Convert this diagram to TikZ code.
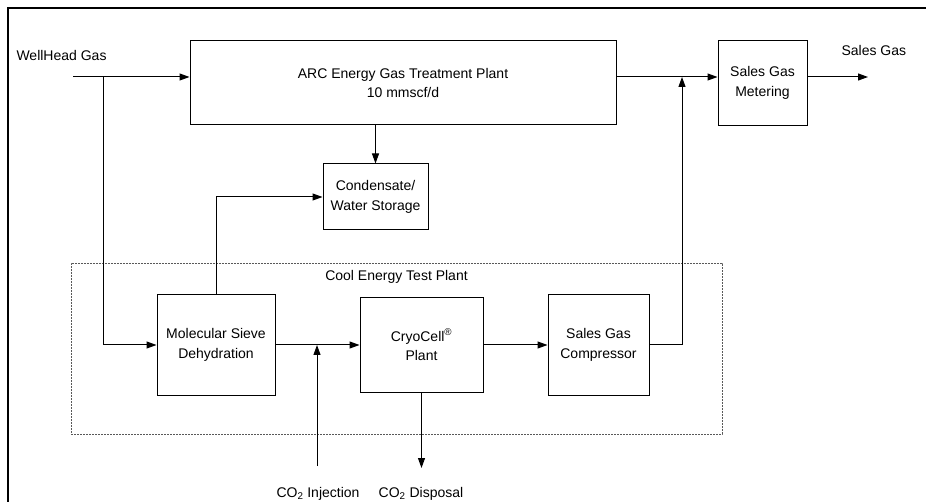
\documentclass[tikz,border=0pt]{standalone}
\usepackage{fontspec}
\setmainfont{Liberation Sans}
\usepackage{tikz}
\usetikzlibrary{arrows.meta, positioning}
\definecolor{framegray}{gray}{0.35}

\begin{document}
\begin{tikzpicture}[
  x=1pt, y=-1pt,
  font=\fontsize{14}{19.5}\selectfont,
  unitbox/.style={draw, line width=1pt, inner sep=0pt, align=center},
  plantframe/.style={draw=framegray, dash pattern=on 2pt off 1pt, line width=0.8pt, inner sep=0pt},
  arrow/.style={-{Triangle[length=10pt,width=7pt]}, line width=1pt}
]
  \useasboundingbox (0,0) rectangle (926,502);
  \draw[line width=1.6pt] (8,502) -- (8,8) -- (930,8);

  \node[plantframe, minimum width=651pt, minimum height=171pt] (testplant) at (396.5,348.5) {};
  \node[below=4pt of testplant.north] (testlabel) {Cool Energy Test Plant};

  \node[unitbox, minimum width=426pt, minimum height=84pt] at (403,83)
    (arc) {ARC Energy Gas Treatment Plant\\10 mmscf/d};
  \node[unitbox, minimum width=89pt, minimum height=85pt, right=101pt of arc]
    (meter) {Sales Gas\\Metering};
  \node[unitbox, minimum width=105pt, minimum height=66pt] at (375.5,197)
    (cond) {Condensate/\\Water Storage};
  \node[unitbox, minimum width=118pt, minimum height=101pt] at (216,345)
    (sieve) {Molecular Sieve\\Dehydration};
  \node[unitbox, minimum width=123pt, minimum height=95pt, right=84pt of sieve]
    (cryo) {CryoCell\textsuperscript{\textregistered}\\Plant};
  \node[unitbox, minimum width=101pt, minimum height=101pt, right=64pt of cryo]
    (comp) {Sales Gas\\Compressor};

  \coordinate (wellin) at (73,77);
  \coordinate (split) at (103,77);
  \coordinate (join) at (682,77);
  \coordinate (salesout) at (868,77);
  \coordinate (co2in) at (317,466);
  \coordinate (co2out) at (421,468);

  \node[anchor=west] at (13,55) (welllabel) {WellHead Gas};
  \node[anchor=west] at (838,51) (saleslabel) {Sales Gas};
  \node at (318,494) (co2inlabel) {CO\textsubscript{2} Injection};
  \node at (421,494) (co2outlabel) {CO\textsubscript{2} Disposal};

  \draw[arrow] (wellin) -- (wellin -| arc.west);
  \draw[arrow] (split) |- (sieve.west);
  \draw[arrow] (cond.north |- arc.south) -- (cond.north);
  \draw[arrow] (sieve.north) |- (cond.west);
  \draw[arrow] (sieve.east) -- (cryo.west);
  \draw[arrow] (co2in) -- (co2in |- sieve.east);
  \draw[arrow] (cryo.south) -- (cryo.south |- co2out);
  \draw[arrow] (cryo.east) -- (comp.west);
  \draw[arrow] (comp.east) -| (join);
  \draw[arrow] (arc.east |- join) -- (meter.west |- join);
  \draw[arrow] (meter.east |- salesout) -- (salesout);
\end{tikzpicture}
\end{document}
